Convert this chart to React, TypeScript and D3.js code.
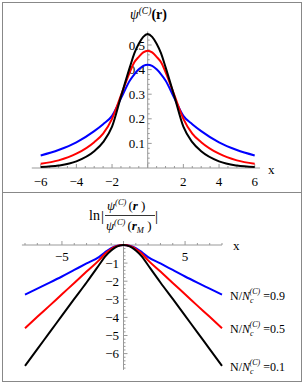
import * as d3 from 'd3'

// top panel: psi(x) for three N/Nc values
const topX = [-6, -5, -4, -3, -2.5, -2, -1.5, -1, -0.75, -0.5, -0.25, 0, 0.25, 0.5, 0.75, 1, 1.5, 2, 2.5, 3, 4, 5, 6]
const topBlack = [0.004, 0.01, 0.027, 0.068, 0.105, 0.168, 0.29, 0.41, 0.466, 0.505, 0.533, 0.545, 0.533, 0.505, 0.466, 0.41, 0.29, 0.168, 0.105, 0.068, 0.027, 0.01, 0.004]
const topRed = [0.017, 0.031, 0.058, 0.105, 0.14, 0.2, 0.295, 0.39, 0.43, 0.452, 0.47, 0.477, 0.47, 0.452, 0.43, 0.39, 0.295, 0.2, 0.14, 0.105, 0.058, 0.031, 0.017]
const topBlue = [0.051, 0.073, 0.104, 0.15, 0.178, 0.212, 0.283, 0.356, 0.381, 0.401, 0.415, 0.42, 0.415, 0.401, 0.381, 0.356, 0.283, 0.212, 0.178, 0.15, 0.104, 0.073, 0.051]

// bottom panel: ln|psi / psi_M|
const botX = [-8, -7, -6, -5, -4, -3, -2, -1.5, -1, -0.75, -0.5, -0.25, 0, 0.25, 0.5, 0.75, 1, 1.5, 2, 3, 4, 5, 6, 7, 8]
const botBlack = [-6.68, -5.75, -4.83, -3.9, -2.98, -2.07, -1.12, -0.64, -0.3, -0.17, -0.075, -0.02, 0, -0.02, -0.075, -0.17, -0.3, -0.64, -1.12, -2.07, -2.98, -3.9, -4.83, -5.75, -6.68]
const botRed = [-4.6, -3.97, -3.35, -2.72, -2.1, -1.47, -0.85, -0.48, -0.22, -0.125, -0.055, -0.014, 0, -0.014, -0.055, -0.125, -0.22, -0.48, -0.85, -1.47, -2.1, -2.72, -3.35, -3.97, -4.6]
const botBlue = [-2.74, -2.41, -2.08, -1.74, -1.38, -1.02, -0.67, -0.4, -0.17, -0.095, -0.042, -0.01, 0, -0.01, -0.042, -0.095, -0.17, -0.4, -0.67, -1.02, -1.38, -1.74, -2.08, -2.41, -2.74]

const topXTicks = [-6, -4, -2, 2, 4, 6]
const topYTicks = [0.1, 0.2, 0.3, 0.4, 0.5]
const botXTicks = [-5, 5]
const botYTicks = [-1, -2, -3, -4, -5, -6]
const legendLabels = ['0.9', '0.5', '0.1']

const font = '"Liberation Serif", "Times New Roman", Times, serif'
const axisColor = '#999'

const fmt = (v: number) => (v < 0 ? '\u2212' + Math.abs(v) : String(v))

export default function App() {
  // scales
  const xT = d3.scaleLinear().domain([-6, 6]).range([40.7, 254.7])
  const yT = d3.scaleLinear().domain([0, 0.5]).range([168, 45])
  const xB = d3.scaleLinear().domain([-8, 8]).range([25, 222])
  const yB = d3.scaleLinear().domain([-6, 0]).range([353.6, 245])

  const lineT = (ys: number[]) =>
    d3.line<number>().x((_, i) => xT(topX[i])).y(d => yT(d)).curve(d3.curveMonotoneX)(ys) || ''
  const lineB = (ys: number[]) =>
    d3.line<number>().x((_, i) => xB(botX[i])).y(d => yB(d)).curve(d3.curveMonotoneX)(ys) || ''

  const topMinorX = d3.range(-6, 6.01, 0.5)
  const topMinorY = d3.range(1, 28).map(i => i * 0.02)
  const botMinorX = d3.range(-8, 8.01, 1)
  const botMinorY = d3.range(1, 35).map(i => -i * 0.2)

  const seriesT = [
    { ys: topBlue, c: '#0000ff' },
    { ys: topRed, c: '#ff0000' },
    { ys: topBlack, c: '#000000' }
  ]
  const seriesB = [
    { ys: botBlue, c: '#0000ff' },
    { ys: botRed, c: '#ff0000' },
    { ys: botBlack, c: '#000000' }
  ]

  return (
    <svg width={305} height={384} style={{ position: 'fixed', left: 0, top: 0, background: '#fff', fontFamily: font }}>
      {/* frames */}
      <rect x={2.5} y={2.5} width={299} height={379} fill="none" stroke="#888" strokeWidth={1} />
      <line x1={2.5} x2={301.5} y1={192.5} y2={192.5} stroke="#888" strokeWidth={1} />

      {/* ---------- top panel ---------- */}
      <g>
        {topYTicks.map(t => (
          <text key={t} x={145} y={yT(t) + 4.5} fontSize={13} textAnchor="end">{t}</text>
        ))}
        {topXTicks.map(t => (
          <text key={t} x={xT(t)} y={186} fontSize={13} textAnchor="middle">{fmt(t)}</text>
        ))}
        <line x1={xT(-6.5)} x2={xT(6.3)} y1={yT(0)} y2={yT(0)} stroke={axisColor} />
        <line x1={xT(0)} x2={xT(0)} y1={yT(0)} y2={yT(0.555)} stroke={axisColor} />
        {topMinorX.map(t => (
          <line key={t} x1={xT(t)} x2={xT(t)} y1={yT(0)} y2={yT(0) - (Math.abs(t % 2) < 1e-6 ? 4 : 2)} stroke={axisColor} />
        ))}
        {topMinorY.map((t, i) => (
          <line key={t} x1={xT(0)} x2={xT(0) + ((i + 1) % 5 === 0 ? 4 : 2)} y1={yT(t)} y2={yT(t)} stroke={axisColor} />
        ))}
        {seriesT.map(s => (
          <path key={s.c} d={lineT(s.ys)} fill="none" stroke={s.c} strokeWidth={2} />
        ))}
        <text x={268} y={174} fontSize={13}>x</text>
        <text x={130} y={19} fontSize={14}>
          <tspan fontStyle="italic">ψ</tspan>
          <tspan fontSize={9.5} dy={-5} fontStyle="italic">(C)</tspan>
          <tspan dy={5} fontWeight="bold">(r)</tspan>
        </text>
      </g>

      {/* ---------- bottom panel ---------- */}
      <g>
        {botYTicks.map(t => (
          <text key={t} x={119} y={yB(t) + 4.5} fontSize={13} textAnchor="end">{fmt(t)}</text>
        ))}
        {botXTicks.map(t => (
          <text key={t} x={xB(t)} y={261} fontSize={13} textAnchor="middle">{fmt(t)}</text>
        ))}
        <line x1={xB(-8.25)} x2={xB(8)} y1={yB(0)} y2={yB(0)} stroke={axisColor} />
        <line x1={xB(0)} x2={xB(0)} y1={yB(0.05)} y2={yB(-6.9)} stroke={axisColor} />
        {botMinorX.map(t => (
          <line key={t} x1={xB(t)} x2={xB(t)} y1={yB(0)} y2={yB(0) - (Math.abs(t % 5) < 1e-6 ? 4 : 2)} stroke={axisColor} />
        ))}
        {botMinorY.map((t, i) => (
          <line key={t} x1={xB(0)} x2={xB(0) + ((i + 1) % 5 === 0 ? 4 : 2)} y1={yB(t)} y2={yB(t)} stroke={axisColor} />
        ))}
        {seriesB.map(s => (
          <path key={s.c} d={lineB(s.ys)} fill="none" stroke={s.c} strokeWidth={2} />
        ))}
        <text x={233} y={250} fontSize={13}>x</text>

        {/* title: ln | psi(r) / psi(r_M) | */}
        <text x={89} y={220} fontSize={14}>ln</text>
        <text x={101} y={221} fontSize={15}>|</text>
        <text x={155} y={221} fontSize={15}>|</text>
        <line x1={105} x2={155} y1={215.5} y2={215.5} stroke="#000" strokeWidth={0.8} />
        <text x={107} y={210} fontSize={13}>
          <tspan fontStyle="italic">ψ</tspan>
          <tspan fontSize={8.5} dy={-5} fontStyle="italic">(C)</tspan>
          <tspan dy={5} dx={2}>(</tspan>
          <tspan fontStyle="italic" fontWeight="bold">r</tspan>
          <tspan> )</tspan>
        </text>
        <text x={106} y={230} fontSize={13}>
          <tspan fontStyle="italic">ψ</tspan>
          <tspan fontSize={8.5} dy={-5} fontStyle="italic">(C)</tspan>
          <tspan dy={5} dx={2}>(</tspan>
          <tspan fontStyle="italic" fontWeight="bold">r</tspan>
          <tspan fontSize={8.5} dy={3} fontStyle="italic">M</tspan>
          <tspan dy={-3}> )</tspan>
        </text>

        {/* legend labels next to line ends */}
        {legendLabels.map((lab, i) => {
          const ys = [botBlue, botRed, botBlack][i]
          const y = yB(ys[ys.length - 1]) + 5
          return (
            <text key={lab} x={230} y={y} fontSize={12}>
              <tspan>N/</tspan>
              <tspan fontStyle="italic">N</tspan>
              <tspan fontSize={8} fontStyle="italic" dy={3}>c</tspan>
              <tspan fontSize={8} fontStyle="italic" dy={-9} dx={-4}>(C)</tspan>
              <tspan dy={6} dx={3}>=</tspan>
              <tspan>{lab}</tspan>
            </text>
          )
        })}
      </g>
    </svg>
  )
}
